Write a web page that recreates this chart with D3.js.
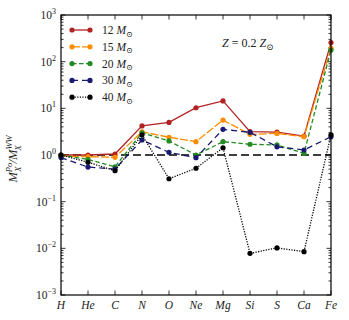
<!DOCTYPE html>
<html>
<head>
<meta charset="utf-8">
<script src="https://cdn.jsdelivr.net/npm/d3@7"></script>
<style>
  body { margin: 0; background: #fff; }
  svg text { font-family: "Liberation Serif", "DejaVu Serif", serif; fill: #222; }
</style>
</head>
<body>
<div id="chart"></div>
<script>
// Element names on the x axis
const elements = ["H", "He", "C", "N", "O", "Ne", "Mg", "Si", "S", "Ca", "Fe"];

// Mass ratio per progenitor mass
const m12 = [1.0, 1.0, 1.05, 4.2, 5.0, 10.3, 14.4, 3.16, 3.1, 2.55, 256];
const m15 = [0.95, 0.92, 0.89, 3.15, 2.4, 1.93, 5.6, 2.77, 2.9, 2.47, 193];
const m20 = [1.0, 0.8, 0.56, 3.0, 2.0, 1.0, 1.93, 1.7, 1.64, 1.09, 178];
const m30 = [0.88, 0.55, 0.5, 2.1, 1.14, 0.875, 3.55, 3.06, 1.5, 1.28, 2.47];
const m40 = [1.0, 0.7, 0.46, 2.7, 0.31, 0.52, 1.43, 0.0078, 0.0102, 0.0085, 2.7];

const seriesLabels = ["12", "15", "20", "30", "40"];
const yTickExps = [-3, -2, -1, 0, 1, 2, 3];

const series = [
    { label: seriesLabels[0], values: m12, color: "#b22222", dash: null },
    { label: seriesLabels[1], values: m15, color: "#ff8c00", dash: "8,2" },
    { label: seriesLabels[2], values: m20, color: "#228b22", dash: "4.5,2.5" },
    { label: seriesLabels[3], values: m30, color: "#191970", dash: "6,4" },
    { label: seriesLabels[4], values: m40, color: "#000", dash: "1.2,1.4" }
];

const width = 349, height = 320;
const margin = { top: 15, right: 18, bottom: 25, left: 61 };
const innerW = width - margin.left - margin.right;
const innerH = height - margin.top - margin.bottom;

const svg = d3.select("#chart").append("svg")
    .attr("width", width)
    .attr("height", height);

const g = svg.append("g")
    .attr("transform", `translate(${margin.left},${margin.top})`);

const x = d3.scalePoint().domain(elements).range([0, innerW]);
const y = d3.scaleLog().domain([1e-3, 1e3]).range([innerH, 0]);

// minor + major ticks on log axis (left and right, inward)
const minorVals = [];
for (let e = -3; e < 3; e++) {
    for (let k = 2; k <= 9; k++) minorVals.push(k * Math.pow(10, e));
}
const majorVals = yTickExps.map(e => Math.pow(10, e));

const ticks = g.append("g").attr("stroke", "#000").attr("stroke-width", 0.8);
[0, innerW].forEach((xx, i) => {
    const dir = i === 0 ? 1 : -1;
    ticks.selectAll(null).data(minorVals).enter().append("line")
        .attr("x1", xx).attr("x2", xx + dir * 2.5)
        .attr("y1", d => y(d)).attr("y2", d => y(d));
    ticks.selectAll(null).data(majorVals).enter().append("line")
        .attr("x1", xx).attr("x2", xx + dir * 4.5)
        .attr("y1", d => y(d)).attr("y2", d => y(d));
});
[0, innerH].forEach((yy, i) => {
    const dir = i === 0 ? 1 : -1;
    ticks.selectAll(null).data(elements).enter().append("line")
        .attr("x1", d => x(d)).attr("x2", d => x(d))
        .attr("y1", yy).attr("y2", yy + dir * 4.5);
});

// y tick labels
const yl = g.append("g");
yTickExps.forEach(e => {
    const t = yl.append("text")
        .attr("x", -5).attr("y", y(Math.pow(10, e)) + 4)
        .attr("text-anchor", "end")
        .style("font-size", "11.5px");
    t.append("tspan").text("10");
    t.append("tspan").attr("dy", -5).style("font-size", "8px").text(e < 0 ? "\u2212" + (-e) : e);
});

// x tick labels
g.append("g").selectAll("text").data(elements).enter().append("text")
    .attr("x", d => x(d)).attr("y", innerH + 14)
    .attr("text-anchor", "middle")
    .style("font-size", "11.5px").style("font-style", "italic")
    .text(d => d);

// reference line at 1
g.append("line")
    .attr("x1", 0).attr("x2", innerW)
    .attr("y1", y(1)).attr("y2", y(1))
    .attr("stroke", "#000").attr("stroke-width", 1.4)
    .attr("stroke-dasharray", "8,4");

// series
const line = d3.line().x((d, i) => x(elements[i])).y(d => y(d));
series.forEach(s => {
    g.append("path")
        .datum(s.values)
        .attr("d", line)
        .attr("fill", "none")
        .attr("stroke", s.color)
        .attr("stroke-width", 1.3)
        .attr("stroke-dasharray", s.dash);
    g.selectAll(null).data(s.values).enter().append("circle")
        .attr("cx", (d, i) => x(elements[i]))
        .attr("cy", d => y(d))
        .attr("r", 2.6)
        .attr("fill", s.color);
});

// frame
g.append("rect")
    .attr("width", innerW).attr("height", innerH)
    .attr("fill", "none").attr("stroke", "#000").attr("stroke-width", 1.2);

// legend
const legend = g.append("g").attr("transform", "translate(11,15)");
series.forEach((s, i) => {
    const row = legend.append("g").attr("transform", `translate(0,${i * 16.8})`);
    row.append("line")
        .attr("x1", 0).attr("x2", 18)
        .attr("stroke", s.color).attr("stroke-width", 1.3)
        .attr("stroke-dasharray", s.dash);
    row.selectAll(null).data([0, 18]).enter().append("circle")
        .attr("cx", d => d).attr("r", 2.6).attr("fill", s.color);
    const t = row.append("text").attr("x", 30).attr("y", 4).style("font-size", "11.5px");
    t.append("tspan").text(s.label + " ");
    t.append("tspan").style("font-style", "italic").text("M");
    t.append("tspan").attr("dy", 2.5).style("font-size", "8px").text("\u2299");
});

// annotation
const ann = g.append("text").attr("x", 161).attr("y", 32).style("font-size", "12px");
ann.append("tspan").style("font-style", "italic").text("Z");
ann.append("tspan").text(" = 0.2 ");
ann.append("tspan").style("font-style", "italic").text("Z");
ann.append("tspan").attr("dy", 2.5).style("font-size", "8.5px").text("\u2299");

// y axis label
const ylab = svg.append("text")
    .attr("transform", `translate(17,${margin.top + y(1) + 4}) rotate(-90)`)
    .attr("text-anchor", "middle")
    .style("font-size", "12.5px").style("font-style", "italic");
ylab.append("tspan").text("M");
ylab.append("tspan").attr("dy", -5).style("font-size", "8.5px").text("Po");
ylab.append("tspan").attr("dx", -9).attr("dy", 8.5).style("font-size", "8.5px").text("X");
ylab.append("tspan").attr("dx", 3).attr("dy", -3.5).text("/M");
ylab.append("tspan").attr("dy", -5).style("font-size", "8.5px").text("WW");
ylab.append("tspan").attr("dx", -15).attr("dy", 8.5).style("font-size", "8.5px").text("X");
</script>
</body>
</html>
